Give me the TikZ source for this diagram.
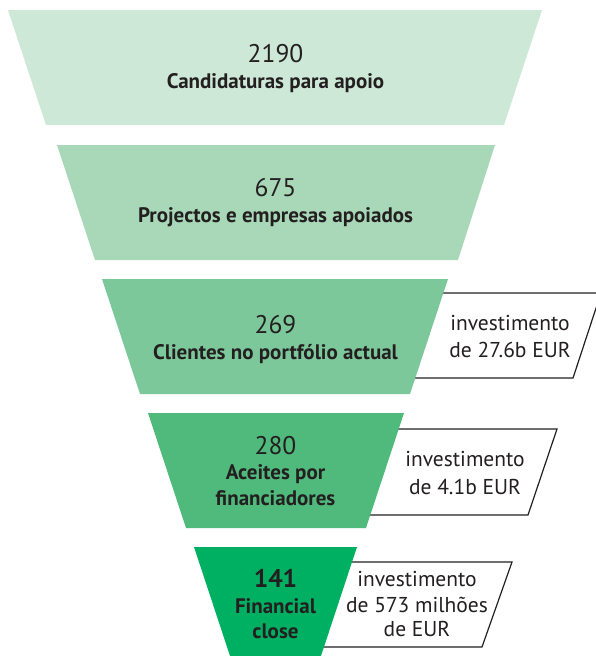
\documentclass[tikz,border=0pt]{standalone}
\usepackage{fontspec}
\setmainfont{PT Sans}
\definecolor{fa}{HTML}{CDE8D6}
\definecolor{fb}{HTML}{A8D8B7}
\definecolor{fc}{HTML}{7DC89A}
\definecolor{fd}{HTML}{50BA7D}
\definecolor{fe}{HTML}{00B062}
\definecolor{txt}{HTML}{231F20}
\begin{document}
\begin{tikzpicture}[x=1pt,y=-1pt,
  num/.style={anchor=base,inner sep=0pt,font=\fontsize{25.5}{30}\selectfont,text=txt},
  lab/.style={anchor=base,inner sep=0pt,font=\bfseries\fontsize{21}{24}\selectfont,text=txt},
  inv/.style={anchor=base,inner sep=0pt,font=\fontsize{21.5}{26}\selectfont,text=txt},
  invbox/.style={draw=txt,line width=1.2pt,fill=white}]
\useasboundingbox (0,0) rectangle (596,656);
\clip (0,0) rectangle (596,656);
% investment boxes
\draw[invbox] (440,293) -- (601,293) -- (573,378) -- (412,378) -- cycle;
\draw[invbox] (395,429) -- (557,429) -- (528,515) -- (366,515) -- cycle;
\draw[invbox] (347,562) -- (512,562) -- (482,647) -- (318,647) -- cycle;
% funnel stages
\fill[fa] (8,10) -- (542,10) -- (504,125) -- (46,125) -- cycle;
\fill[fb] (57,145) -- (495,145) -- (458,260) -- (95,260) -- cycle;
\fill[fc] (102,279) -- (448,279) -- (410,394) -- (140,394) -- cycle;
\fill[fd] (148,413) -- (404,413) -- (366,528) -- (186,528) -- cycle;
\fill[fe] (194,547) -- (357,547) -- (319,662) -- (232,662) -- cycle;
% stage texts
\node[num] (n1) at (275.5,62) {2190};
\node[lab] (l1) at (275.5,88) {Candidaturas para apoio};
\node[num] (n2) at (275.5,196) {675};
\node[lab] (l2) at (275.5,222) {Projectos e empresas apoiados};
\node[num] (n3) at (275.5,333) {269};
\node[lab] (l3) at (275.5,359) {Clientes no portfólio actual};
\node[num] (n4) at (275.5,454) {280};
\node[lab] (l4a) at (275.5,479) {Aceites por};
\node[lab] (l4b) at (275.5,505) {financiadores};
\node[num,font=\bfseries\fontsize{25.5}{30}\selectfont] (n5) at (275.5,587) {141};
\node[lab] (l5a) at (275.5,613) {Financial};
\node[lab] (l5b) at (275.5,638) {close};
% box texts
\node[inv] (i3a) at (510,330) {investimento};
\node[inv] (i3b) at (510,357) {de 27.6b EUR};
\node[inv] (i4a) at (465,466) {investimento};
\node[inv] (i4b) at (465,494) {de 4.1b EUR};
\node[inv] (i5a) at (417,586) {investimento};
\node[inv] (i5b) at (417,612) {de 573 milhões};
\node[inv] (i5c) at (417,636) {de EUR};
\end{tikzpicture}
\end{document}
